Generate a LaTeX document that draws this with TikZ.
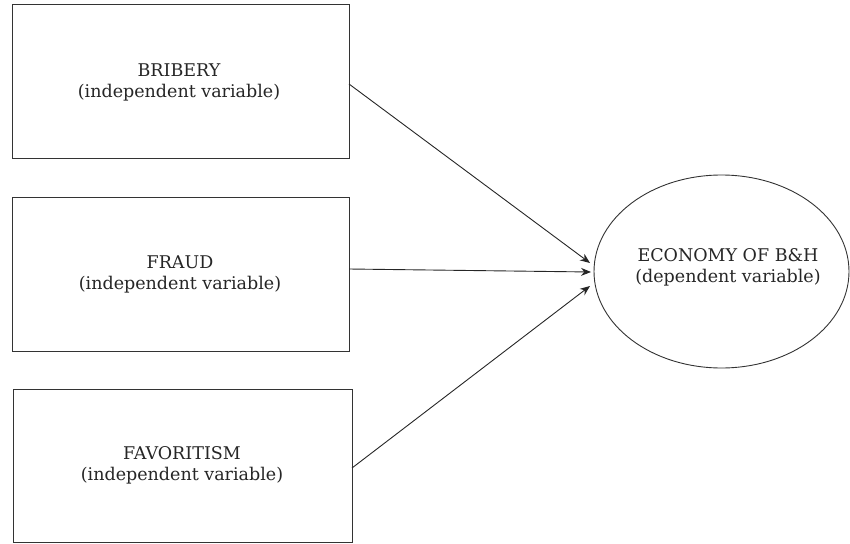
\documentclass[tikz,border=0pt]{standalone}
\usepackage{fontspec}
\setmainfont{DejaVu Serif}
\usetikzlibrary{arrows.meta,shapes.geometric}
\begin{document}
\begin{tikzpicture}[x=1pt,y=-1pt,
  box/.style={draw=black!80,line width=1pt,fill=white},
  lbl/.style={align=center,font=\fontsize{17.5}{21}\selectfont,text=black!85,inner sep=0pt},
  conn/.style={draw=black!85,line width=0.9pt,-{Stealth[length=10pt,width=8pt]}}]
\useasboundingbox (0,0) rectangle (850,543);
\draw[box] (12,5) rectangle (349,158);
\draw[box] (12,197) rectangle (349,351);
\draw[box] (13,389) rectangle (352,542);
\node[draw=black!80,line width=0.9pt,ellipse,minimum width=255pt,minimum height=193pt,inner sep=0pt] (eco) at (721.5,271.5) {};
\coordinate (b1) at (349,84);
\coordinate (b2) at (349,269);
\coordinate (b3) at (352,468);
\node[lbl] (t1) at (179,82) {BRIBERY\\(independent variable)};
\node[lbl] (t2) at (180,274) {FRAUD\\(independent variable)};
\node[lbl] (t3) at (182,465) {FAVORITISM\\(independent variable)};
\node[lbl] (t4) at (728,267) {ECONOMY OF B\&H\\(dependent variable)};
\coordinate (e1) at (590,263);
\coordinate (e2) at (591,272);
\coordinate (e3) at (590,286);
\draw[conn] (b1) -- (e1);
\draw[conn] (b2) -- (e2);
\draw[conn] (b3) -- (e3);
\end{tikzpicture}
\end{document}
